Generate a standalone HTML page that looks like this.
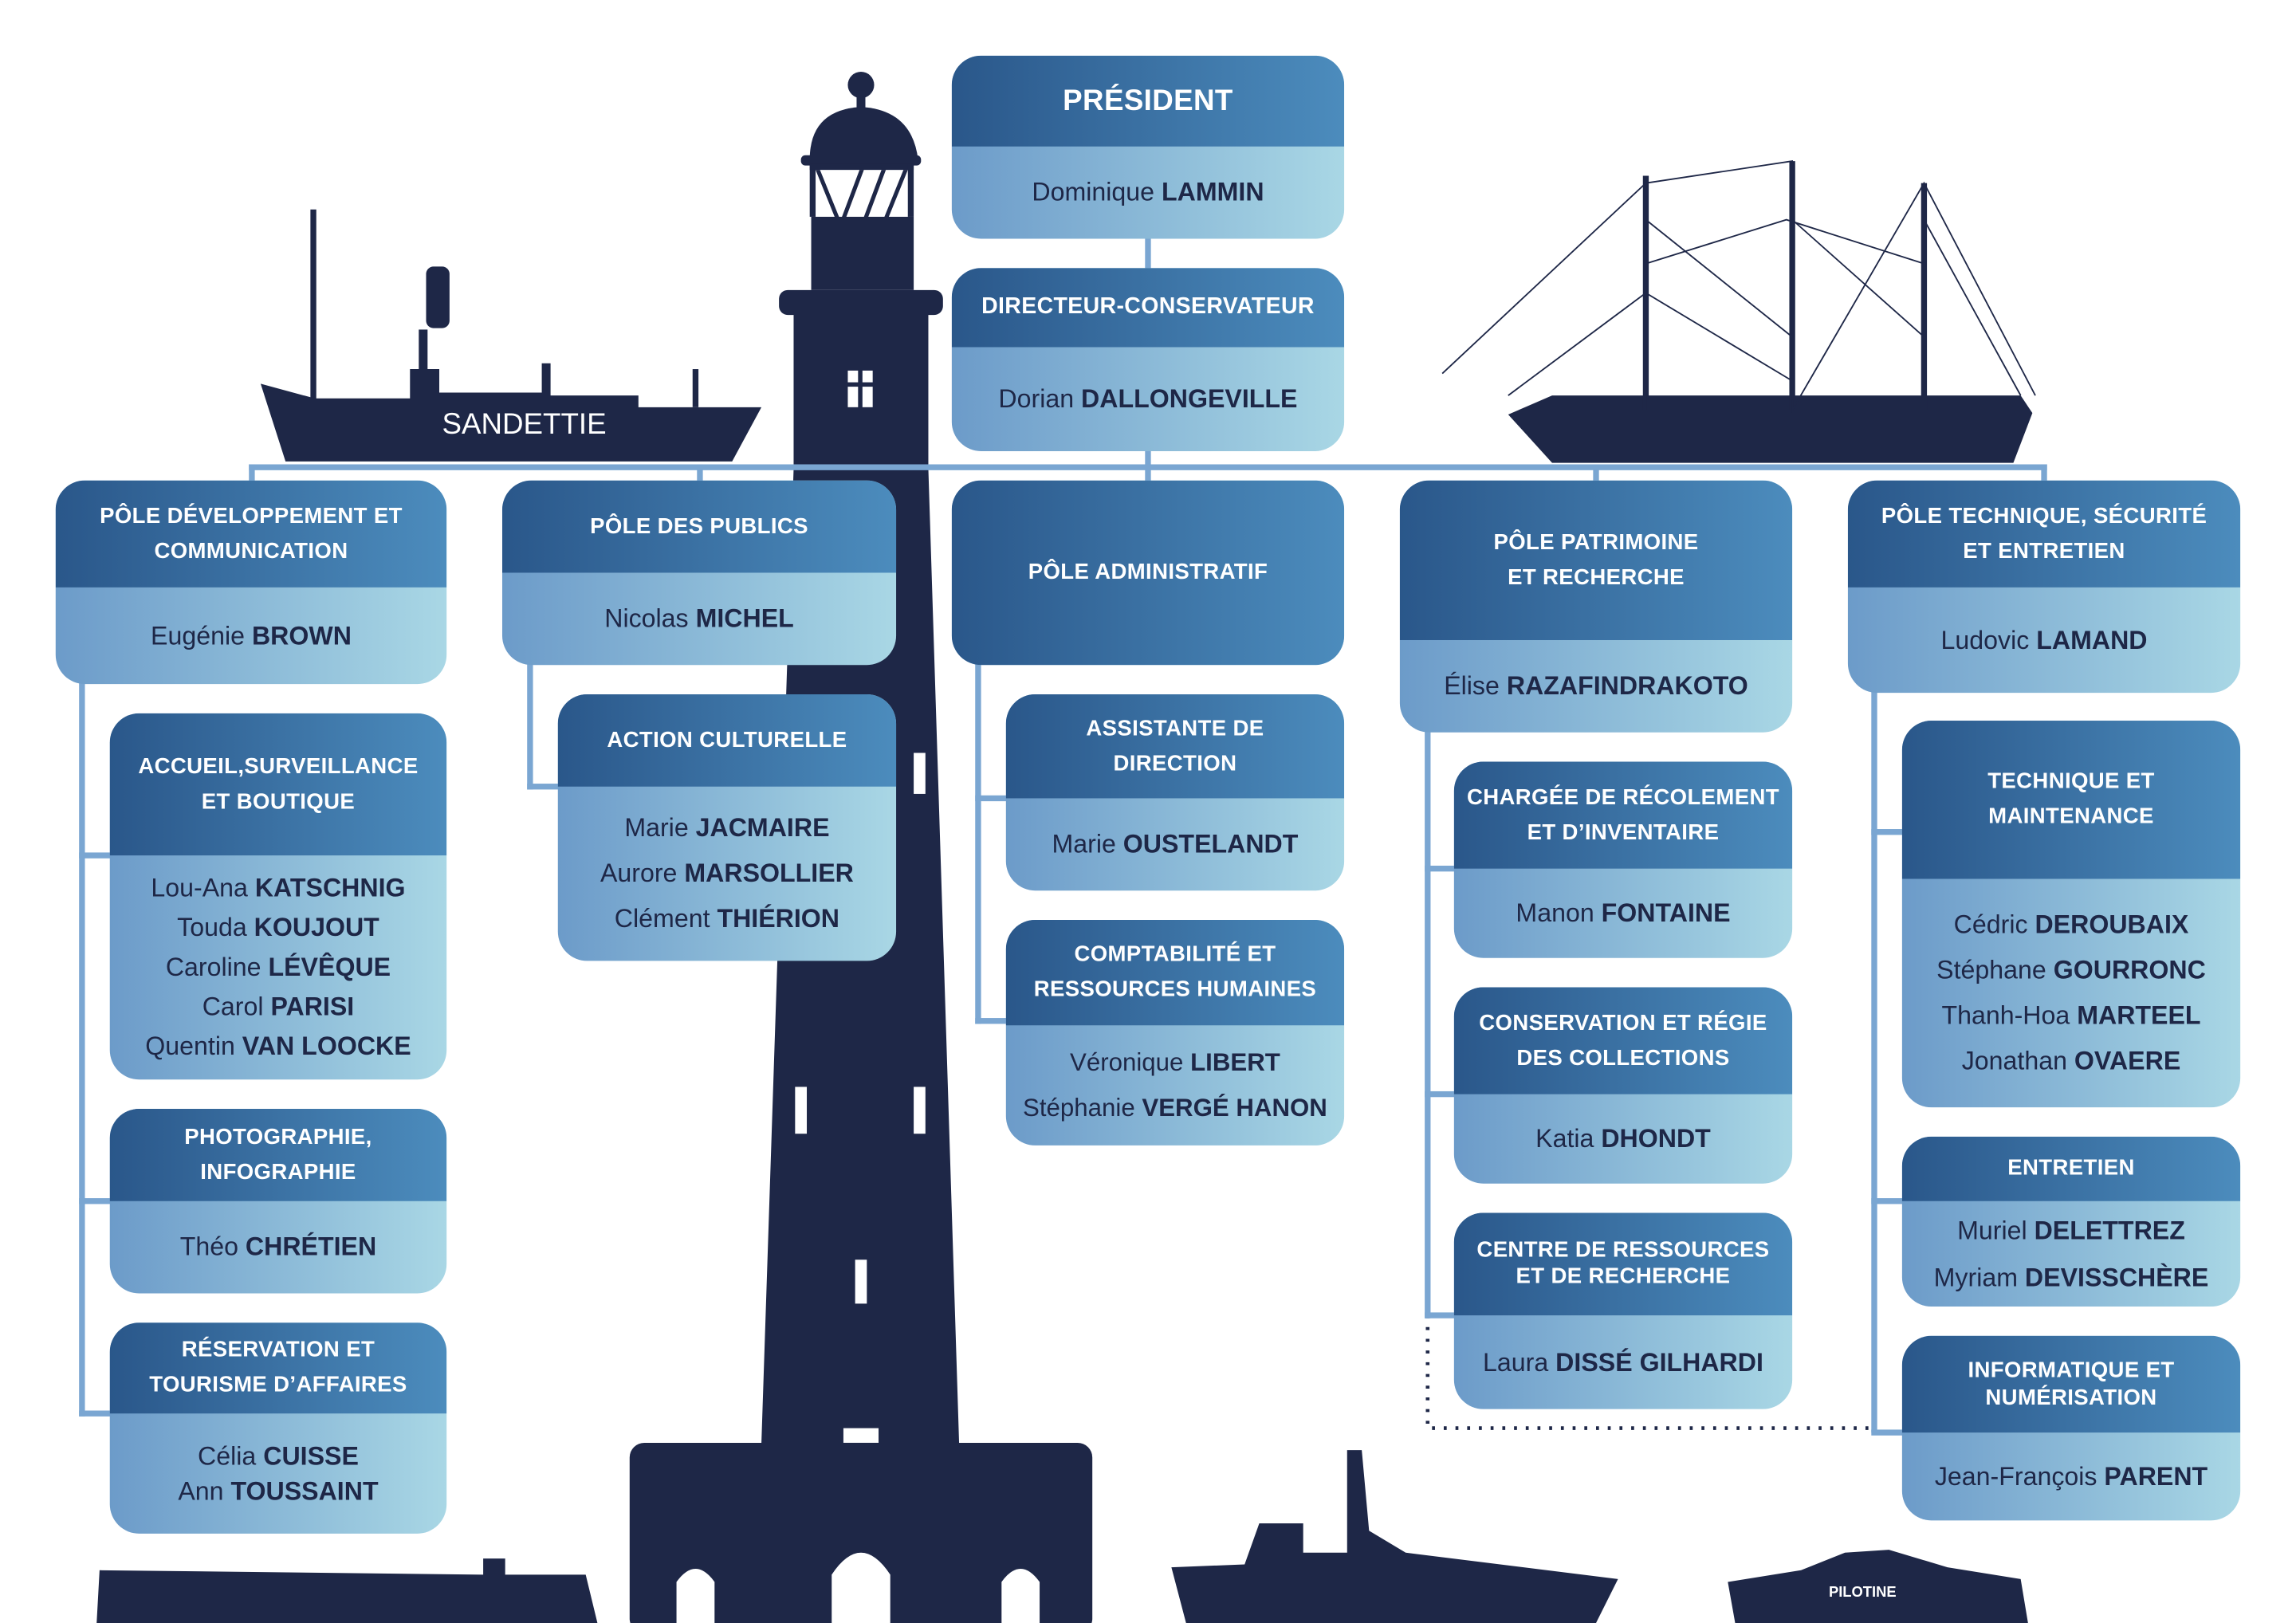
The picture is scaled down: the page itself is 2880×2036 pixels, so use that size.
<!DOCTYPE html>
<html><head><meta charset="utf-8"><style>
html,body{margin:0;padding:0;background:#fff;}
#w{width:2880px;height:2036px;overflow:hidden;position:relative;background:#fff;}
#s{position:absolute;left:0;top:0;width:1568px;height:1108px;transform:scale(1.8367,1.8375);transform-origin:0 0;font-family:"Liberation Sans",sans-serif;}
.b{position:absolute;border-radius:20px;overflow:hidden;background:linear-gradient(90deg,#6c9bc9,#a9d7e5);}
.h{position:absolute;left:0;right:0;top:0;background:linear-gradient(90deg,#2a578a,#4c8cbd);color:#fff;font-weight:bold;font-size:15px;line-height:24px;display:flex;align-items:center;justify-content:center;text-align:center;letter-spacing:0.2px;}
.t{position:absolute;left:0;right:0;bottom:0;color:#1e2747;font-size:17.5px;line-height:31px;display:flex;flex-direction:column;align-items:center;justify-content:center;text-align:center;white-space:nowrap;}
.t b{font-weight:bold;}
.l{position:absolute;background:#7aa6d2;}
</style></head><body><div id="w"><div id="s">
<svg width="1568" height="1108" style="position:absolute;left:0;top:0">
<g fill="#1e2747">
<circle cx="588" cy="58" r="9"/>
<rect x="585" y="62" width="6" height="14"/>
<path d="M553 109 Q553 75 588 73 Q623 75 627 109 Z"/>
<rect x="547" y="106" width="82" height="7" rx="3"/>
<rect x="553" y="112" width="71" height="4"/>
<rect x="553" y="112" width="4" height="36"/><rect x="620" y="112" width="4" height="36"/>
<path d="M557 116 L570 148 L573 148 L560 116Z M575 148 L587 116 L590 116 L578 148Z M590 148 L602 116 L605 116 L593 148Z M607 148 L620 116 L617 116 L604 148Z"/>
<rect x="554" y="148" width="70" height="50"/>
<rect x="532" y="198" width="112" height="17" rx="6"/>
<polygon points="542,212 634,212 634,320 655,985 520,985 542,320"/>
<rect x="430" y="985" width="316" height="130" rx="10"/>
<rect x="212" y="143" width="4" height="130"/>
<rect x="291" y="182" width="16" height="42" rx="5"/>
<rect x="286" y="225" width="6" height="40"/>
<polygon points="178,262 215,272 280,272 280,252 300,252 300,268 370,268 370,248 376,248 376,270 436,270 436,278 520,278 500,315 195,315"/>
<rect x="473" y="252" width="4" height="26"/>
<polygon points="1030,283 1060,270 1380,270 1388,282 1375,316 1060,316"/>
<rect x="1122" y="120" width="4" height="160"/><rect x="1222" y="110" width="4" height="170"/><rect x="1312" y="125" width="4" height="155"/>
<polygon points="68,1072 330,1075 330,1064 345,1064 345,1075 400,1075 408,1108 66,1108"/>
<polygon points="800,1070 850,1068 860,1040 890,1040 890,1060 920,1060 920,990 930,990 935,1045 960,1060 1105,1078 1090,1108 810,1108"/>
<polygon points="1180,1080 1230,1072 1260,1060 1290,1058 1330,1070 1380,1078 1385,1108 1185,1108"/>
</g>
<g stroke="#1e2747" stroke-width="1" fill="none">
<path d="M985 255 L1124 125 L1124 280 M1124 125 L1224 110 L1224 280 L1314 125 L1390 270 M1124 150 L1224 230 M1224 150 L1314 230 M1030 270 L1124 200 L1224 260 M1124 180 L1220 150 L1314 180 M1314 150 L1380 270"/>
</g>
<g fill="#fff">
<rect x="579" y="253" width="7" height="8"/><rect x="589" y="253" width="7" height="8"/><rect x="579" y="264" width="7" height="14"/><rect x="589" y="264" width="7" height="14"/>
<rect x="624" y="514" width="8" height="28"/><rect x="543" y="742" width="8" height="32"/><rect x="624" y="742" width="8" height="32"/><rect x="584" y="860" width="8" height="30"/><rect x="576" y="975" width="24" height="10"/>
<path d="M462 1108 V1080 Q475 1062 488 1080 V1108Z"/><path d="M568 1108 V1075 Q588 1045 608 1075 V1108Z"/><path d="M684 1108 V1080 Q697 1062 710 1080 V1108Z"/>
</g>
<text x="358" y="296" fill="#fff" font-family="Liberation Sans" font-size="20" text-anchor="middle">SANDETTIE</text>
<text x="1272" y="1090" fill="#fff" font-family="Liberation Sans" font-size="10" font-weight="bold" text-anchor="middle">PILOTINE</text>
<g stroke="#1e2747" stroke-width="2.5" stroke-dasharray="2 6" fill="none"><path d="M975 898 V975 H1280"/></g>
</svg>
<div class="l" style="left:170px;top:317px;width:1228px;height:4px"></div>
<div class="l" style="left:782px;top:160px;width:4px;height:170px"></div>
<div class="l" style="left:170px;top:317px;width:4px;height:14px"></div>
<div class="l" style="left:476px;top:317px;width:4px;height:14px"></div>
<div class="l" style="left:1088px;top:317px;width:4px;height:14px"></div>
<div class="l" style="left:1394px;top:317px;width:4px;height:14px"></div>
<div class="l" style="left:54px;top:460px;width:4px;height:507px"></div>
<div class="l" style="left:54px;top:582px;width:24px;height:4px"></div>
<div class="l" style="left:54px;top:818px;width:24px;height:4px"></div>
<div class="l" style="left:54px;top:963px;width:24px;height:4px"></div>
<div class="l" style="left:360px;top:450px;width:4px;height:89px"></div>
<div class="l" style="left:360px;top:535px;width:24px;height:4px"></div>
<div class="l" style="left:666px;top:450px;width:4px;height:249px"></div>
<div class="l" style="left:666px;top:543px;width:24px;height:4px"></div>
<div class="l" style="left:666px;top:695px;width:24px;height:4px"></div>
<div class="l" style="left:973px;top:495px;width:4px;height:405px"></div>
<div class="l" style="left:973px;top:591px;width:24px;height:4px"></div>
<div class="l" style="left:973px;top:745px;width:24px;height:4px"></div>
<div class="l" style="left:973px;top:896px;width:24px;height:4px"></div>
<div class="l" style="left:1278px;top:470px;width:4px;height:508px"></div>
<div class="l" style="left:1278px;top:566px;width:24px;height:4px"></div>
<div class="l" style="left:1278px;top:818px;width:24px;height:4px"></div>
<div class="l" style="left:1278px;top:976px;width:24px;height:4px"></div>

<div class="b" style="left:650px;top:38px;width:268px;height:125px"><div class="h" style="height:62px;font-size:20px">PRÉSIDENT</div><div class="t" style="height:63px"><span>Dominique <b>LAMMIN</b></span></div></div>
<div class="b" style="left:650px;top:183px;width:268px;height:125px"><div class="h" style="height:54px;font-size:15.5px">DIRECTEUR-CONSERVATEUR</div><div class="t" style="height:71px"><span>Dorian <b>DALLONGEVILLE</b></span></div></div>

<div class="b" style="left:38px;top:328px;width:267px;height:139px"><div class="h" style="height:73px">PÔLE DÉVELOPPEMENT ET<br>COMMUNICATION</div><div class="t" style="height:66px"><span>Eugénie <b>BROWN</b></span></div></div>
<div class="b" style="left:343px;top:328px;width:269px;height:126px"><div class="h" style="height:63px">PÔLE DES PUBLICS</div><div class="t" style="height:63px"><span>Nicolas <b>MICHEL</b></span></div></div>
<div class="b" style="left:650px;top:328px;width:268px;height:126px"><div class="h" style="height:126px">PÔLE ADMINISTRATIF</div></div>
<div class="b" style="left:956px;top:328px;width:268px;height:172px"><div class="h" style="height:109px">PÔLE PATRIMOINE<br>ET RECHERCHE</div><div class="t" style="height:63px"><span>Élise <b>RAZAFINDRAKOTO</b></span></div></div>
<div class="b" style="left:1262px;top:328px;width:268px;height:145px"><div class="h" style="height:73px">PÔLE TECHNIQUE, SÉCURITÉ<br>ET ENTRETIEN</div><div class="t" style="height:72px"><span>Ludovic <b>LAMAND</b></span></div></div>

<div class="b" style="left:75px;top:487px;width:230px;height:250px"><div class="h" style="height:97px">ACCUEIL,SURVEILLANCE<br>ET BOUTIQUE</div><div class="t" style="height:153px;line-height:27px"><span>Lou-Ana <b>KATSCHNIG</b></span><span>Touda <b>KOUJOUT</b></span><span>Caroline <b>LÉVÊQUE</b></span><span>Carol <b>PARISI</b></span><span>Quentin <b>VAN LOOCKE</b></span></div></div>
<div class="b" style="left:75px;top:757px;width:230px;height:126px"><div class="h" style="height:63px">PHOTOGRAPHIE,<br>INFOGRAPHIE</div><div class="t" style="height:63px"><span>Théo <b>CHRÉTIEN</b></span></div></div>
<div class="b" style="left:75px;top:903px;width:230px;height:144px"><div class="h" style="height:62px">RÉSERVATION ET<br>TOURISME D’AFFAIRES</div><div class="t" style="height:82px;line-height:24px"><span>Célia <b>CUISSE</b></span><span>Ann <b>TOUSSAINT</b></span></div></div>

<div class="b" style="left:381px;top:474px;width:231px;height:182px"><div class="h" style="height:63px">ACTION CULTURELLE</div><div class="t" style="height:119px"><span>Marie <b>JACMAIRE</b></span><span>Aurore <b>MARSOLLIER</b></span><span>Clément <b>THIÉRION</b></span></div></div>

<div class="b" style="left:687px;top:474px;width:231px;height:134px"><div class="h" style="height:71px">ASSISTANTE DE<br>DIRECTION</div><div class="t" style="height:63px"><span>Marie <b>OUSTELANDT</b></span></div></div>
<div class="b" style="left:687px;top:628px;width:231px;height:154px"><div class="h" style="height:72px">COMPTABILITÉ ET<br>RESSOURCES HUMAINES</div><div class="t" style="height:82px;font-size:17px"><span>Véronique <b>LIBERT</b></span><span>Stéphanie <b>VERGÉ HANON</b></span></div></div>

<div class="b" style="left:993px;top:520px;width:231px;height:134px"><div class="h" style="height:73px">CHARGÉE DE RÉCOLEMENT<br>ET D’INVENTAIRE</div><div class="t" style="height:61px"><span>Manon <b>FONTAINE</b></span></div></div>
<div class="b" style="left:993px;top:674px;width:231px;height:134px"><div class="h" style="height:73px">CONSERVATION ET RÉGIE<br>DES COLLECTIONS</div><div class="t" style="height:61px"><span>Katia <b>DHONDT</b></span></div></div>
<div class="b" style="left:993px;top:828px;width:231px;height:134px"><div class="h" style="height:70px;line-height:18px">CENTRE DE RESSOURCES<br>ET DE RECHERCHE</div><div class="t" style="height:64px"><span>Laura <b>DISSÉ GILHARDI</b></span></div></div>

<div class="b" style="left:1299px;top:492px;width:231px;height:264px"><div class="h" style="height:108px">TECHNIQUE ET<br>MAINTENANCE</div><div class="t" style="height:156px"><span>Cédric <b>DEROUBAIX</b></span><span>Stéphane <b>GOURRONC</b></span><span>Thanh-Hoa <b>MARTEEL</b></span><span>Jonathan <b>OVAERE</b></span></div></div>
<div class="b" style="left:1299px;top:776px;width:231px;height:116px"><div class="h" style="height:44px">ENTRETIEN</div><div class="t" style="height:72px;line-height:32px"><span>Muriel <b>DELETTREZ</b></span><span>Myriam <b>DEVISSCHÈRE</b></span></div></div>
<div class="b" style="left:1299px;top:912px;width:231px;height:126px"><div class="h" style="height:66px;line-height:19px">INFORMATIQUE ET<br>NUMÉRISATION</div><div class="t" style="height:60px"><span>Jean-François <b>PARENT</b></span></div></div>
</div></div></body></html>
